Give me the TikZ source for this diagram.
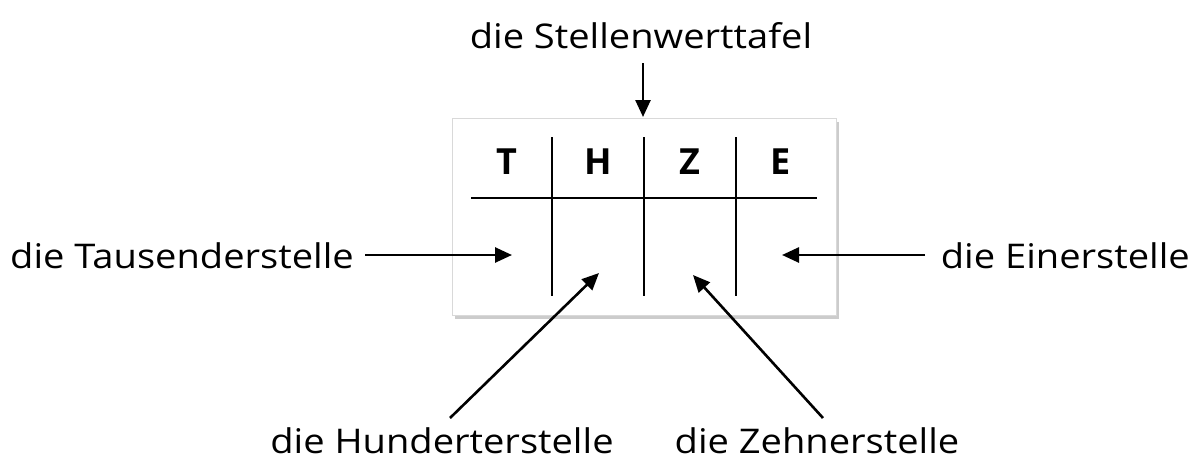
\documentclass[tikz,border=0pt]{standalone}
\usepackage{fontspec}
\setmainfont{Open Sans}
\newfontfamily\lblfont[FakeStretch=1.12]{Open Sans}
\usetikzlibrary{shadows,arrows.meta}
\begin{document}
\begin{tikzpicture}[x=1pt,y=-1pt,
  lbl/.style={font=\lblfont\fontsize{34}{40}\selectfont,inner sep=0pt,anchor=center},
  letter/.style={font=\fontsize{36}{42}\selectfont\bfseries,inner sep=0pt},
  arr/.style={line width=2.6pt,-{Triangle[length=17pt,width=15pt]}},
  grid/.style={line width=2.4pt}]
\useasboundingbox (0,0) rectangle (1201,464);
\node[draw=gray!30,fill=white,line width=0.8pt,minimum width=384pt,minimum height=197pt,inner sep=0pt,
  drop shadow={shadow xshift=3pt,shadow yshift=-4pt,fill=black!40},anchor=north west] (box) at (452,118) {};
\coordinate (hl) at (471,198);
\coordinate (hr) at (817,198);
\draw[grid] (hl) -- (hr);
\coordinate (v1t) at (552,137); \coordinate (v1b) at (552,296);
\coordinate (v2t) at (644,137); \coordinate (v2b) at (644,296);
\coordinate (v3t) at (736,137); \coordinate (v3b) at (736,296);
\draw[grid] (v1t) -- (v1b);
\draw[grid] (v2t) -- (v2b);
\draw[grid] (v3t) -- (v3b);
\node[letter,anchor=base] (T) at (507,174) {T};
\node[letter,anchor=base] (H) at (598,174) {H};
\node[letter,anchor=base] (Z) at (690,174) {Z};
\node[letter,anchor=base] (E) at (781,174) {E};
\node[lbl,anchor=base] (title) at (641,48) {die Stellenwerttafel};
\node[lbl,anchor=base west] (tau) at (10,268) {die Tausenderstelle};
\node[lbl,anchor=base east] (ein) at (1190,268) {die Einerstelle};
\node[lbl,anchor=base] (hun) at (442,453) {die Hunderterstelle};
\node[lbl,anchor=base] (zeh) at (817,453) {die Zehnerstelle};
\coordinate (a0s) at (643,63); \coordinate (a0e) at (643,117);
\coordinate (a1s) at (365,255); \coordinate (a1e) at (512,255);
\coordinate (a2s) at (925,255); \coordinate (a2e) at (782,255);
\coordinate (a3s) at (450,418); \coordinate (a3e) at (599,273);
\coordinate (a4s) at (823,418); \coordinate (a4e) at (693,275);
\draw[arr] (a0s) -- (a0e);
\draw[arr] (a1s) -- (a1e);
\draw[arr] (a2s) -- (a2e);
\draw[arr] (a3s) -- (a3e);
\draw[arr] (a4s) -- (a4e);
\end{tikzpicture}
\end{document}
